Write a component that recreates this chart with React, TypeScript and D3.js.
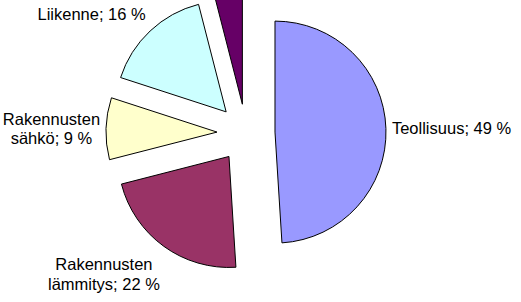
import React, { useEffect, useRef } from 'react';
import * as d3 from 'd3';

const categories = [
  'Teollisuus',
  'Rakennusten lämmitys',
  'Rakennusten sähkö',
  'Liikenne',
  'Muut',
];
const values = [49, 22, 9, 16, 4];
const colors = ['#9999FF', '#993366', '#FFFFCC', '#CCFFFF', '#660066'];

const WIDTH = 521;
const HEIGHT = 302;

// split "Rakennusten lämmitys" into two lines, value goes on the last one
const labelLines = (name: string, v: number) => {
  const words = name.split(' ');
  if (words.length === 1) return [`${name}; ${v} %`];
  return [words[0], `${words.slice(1).join(' ')}; ${v} %`];
};

export default function App() {
  const svgRef = useRef<SVGSVGElement>(null);

  useEffect(() => {
    if (!svgRef.current) return;
    const svg = d3.select(svgRef.current);
    svg.selectAll('*').remove();

    const cx = 246;
    const cy = 133;
    const r = 111;
    const explode = 29;
    const gap = 6;
    const vGap = 4;
    const lineH = 19.5;

    const pie = d3
      .pie<number>()
      .sort(null)
      .value((d) => d);
    const arcs = pie(values);
    const arcGen = d3
      .arc<d3.PieArcDatum<number>>()
      .innerRadius(0)
      .outerRadius(r);

    const g = svg.append('g').attr('transform', `translate(${cx},${cy})`);

    arcs.forEach((a, i) => {
      const mid = (a.startAngle + a.endAngle) / 2;
      const s = Math.sin(mid);
      const c = Math.cos(mid);
      const dx = s * explode;
      const dy = -c * explode;

      g.append('path')
        .attr('d', arcGen(a) || '')
        .attr('transform', `translate(${dx},${dy})`)
        .attr('fill', colors[i])
        .attr('stroke', '#000')
        .attr('stroke-width', 1);

      // label sits just outside the arc, on the slice bisector
      const lx = dx + s * (r + gap);
      const ly = dy - c * (r + gap);

      const t = g
        .append('text')
        .attr('font-family', '"Liberation Sans", Arial, sans-serif')
        .attr('font-size', '16.5px')
        .attr('fill', '#000')
        .attr('text-anchor', 'middle');
      labelLines(categories[i], values[i]).forEach((ln, k) => {
        t.append('tspan')
          .attr('x', 0)
          .attr('dy', k ? lineH : 0)
          .text(ln);
      });
      const bb = (t.node() as SVGTextElement).getBBox();
      const boxLeft = s > 0.3 ? lx : s < -0.3 ? lx - bb.width : lx - bb.width / 2;
      const boxTop =
        c > 0.3 ? ly - bb.height - vGap : c < -0.3 ? ly + vGap : ly - bb.height / 2;
      if (cy + boxTop < 0 || cy + boxTop + bb.height > HEIGHT) {
        t.remove();
        return;
      }
      t.attr('transform', `translate(${boxLeft - bb.x},${boxTop - bb.y})`);
    });
  }, []);

  return (
    <svg
      ref={svgRef}
      width={WIDTH}
      height={HEIGHT}
      style={{ position: 'absolute', left: 0, top: 0, background: '#fff' }}
    />
  );
}
